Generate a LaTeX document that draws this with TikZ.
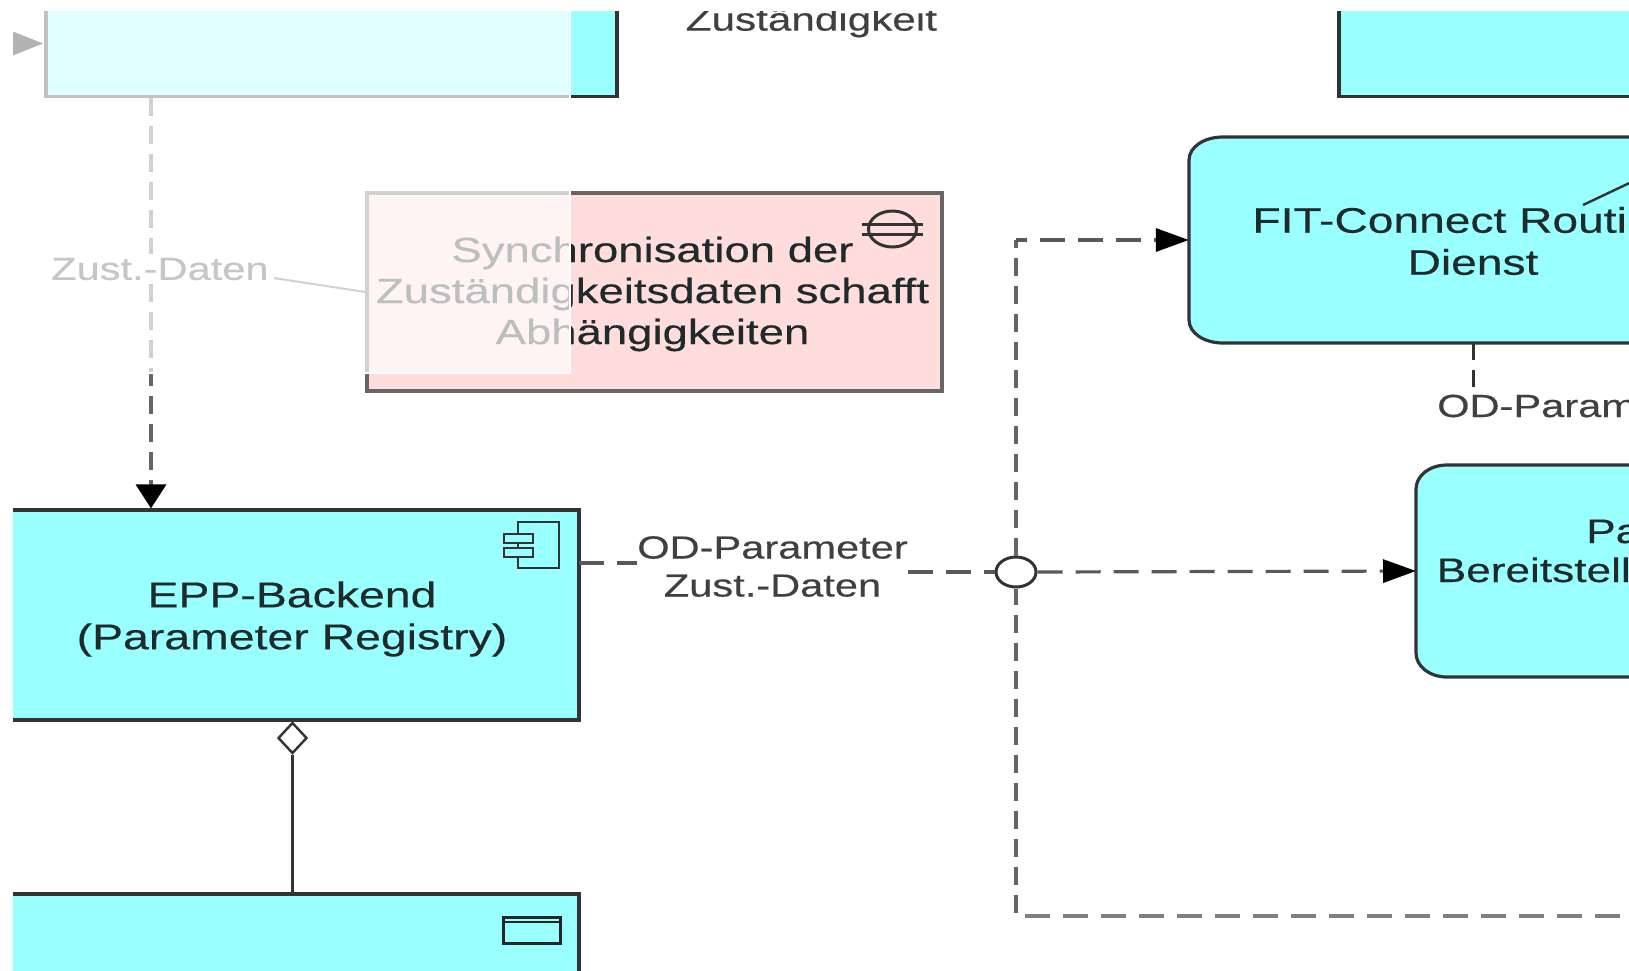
\documentclass[tikz,border=0pt]{standalone}
\usepackage{fontspec}
\setmainfont[FakeStretch=1.3,FakeBold=0.35]{Liberation Sans}
\usetikzlibrary{arrows.meta,shapes.geometric}
\definecolor{cy}{HTML}{99FFFF}
\definecolor{pk}{HTML}{FFDDDD}
\definecolor{ed}{HTML}{333333}
\definecolor{tx}{HTML}{1F2A2A}
\tikzset{
  box/.style={draw=ed,line width=3.2pt,fill=cy,rectangle,inner sep=0pt,align=center,text=tx,font=\fontsize{35.7}{42}\selectfont},
  softtext/.style={inner sep=0pt,align=center,text=tx,font=\fontsize{35.5}{42}\selectfont},
  riskbox/.style={draw=black!60,line width=3.4pt,fill=pk,rectangle,inner sep=0pt,align=center,text=tx,font=\fontsize{35}{41}\selectfont},
  conlabel/.style={fill=white,inner sep=0pt,align=center,text=black!75,font=\fontsize{32}{38}\selectfont},
  vdash/.style={draw=black!60,line width=3.6pt,dash pattern=on 18pt off 10pt},
  hdash/.style={draw=black!65,line width=3.2pt,dash pattern=on 25pt off 13pt},
  tipv/.style={-{Triangle[length=24pt,width=30pt,color=black,fill=black]}},
  tiph/.style={-{Triangle[length=33pt,width=23pt,color=black,fill=black]}},
}
\begin{document}
\begin{tikzpicture}[x=1pt,y=-1pt]
\useasboundingbox (0,0) rectangle (1629,970);
\begin{scope}
\clip (13,11) rectangle (1629,970);

% rectangular elements
\node[box,minimum width=571pt,minimum height=157pt] (tl) at (331.5,18.3) {};
\node[box,minimum width=661pt,minimum height=157pt] (tr) at (1669.5,18.3) {};
\node[riskbox,minimum width=575pt,minimum height=198pt,text depth=0pt] (risk) at (654.5,292) {};
\node[inner sep=0pt,align=center,text=tx,font=\fontsize{35}{41}\selectfont] (risktext) at (652.5,294)
  {Synchronisation der\\Zuständigkeitsdaten schafft\\Abhängigkeiten};
\node[box,minimum width=578pt,minimum height=210pt] (epp) at (290,615) {};
\node[inner sep=0pt,align=center,text=tx,font=\fontsize{35.7}{42}\selectfont] (epptext) at (292,619)
  {EPP-Backend\\(Parameter Registry)};
\node[box,minimum width=578pt,minimum height=212pt] (bot) at (290,1000) {};

% rounded services (elliptical corners on the visible side)
\path[draw=ed,line width=3.2pt,fill=cy]
  (1760,137) -- (1223,137) .. controls (1204,137) and (1189,147) .. (1189,160)
  -- (1189,320) .. controls (1189,333) and (1204,343) .. (1223,343) -- (1760,343) -- cycle;
\path[draw=ed,line width=3.2pt,fill=cy]
  (1760,465) -- (1447,465) .. controls (1429,465) and (1416,476) .. (1416,489)
  -- (1416,653) .. controls (1416,666) and (1429,677) .. (1447,677) -- (1760,677) -- cycle;
\node[inner sep=0pt,minimum width=568pt,minimum height=206pt] (fit) at (1473,240) {};
\node[softtext] (fittext) at (1473,241) {FIT-Connect Routing-\\Dienst};
\node[inner sep=0pt,minimum width=1pt,minimum height=212pt] (par) at (1416,571) {};
\node[softtext,anchor=base west,font=\fontsize{34}{42}\selectfont] (parA) at (1586,543) {Pa};
\node[softtext,anchor=base west,font=\fontsize{34}{42}\selectfont] (parB) at (1436.5,582) {Bereitstell};
\draw[ed,line width=2.4pt] (1583,205) -- (1640,178);

% icons
\draw[ed,line width=3pt] (892.5,229) ellipse [x radius=24pt,y radius=18pt];
\draw[ed,line width=3pt] (862,224) -- (923,224) (862,234) -- (923,234);
\draw[ed,line width=2.8pt] (518,522) rectangle (559,568);
\draw[ed,line width=2.8pt,fill=cy] (504,534) rectangle (533,543);
\draw[ed,line width=2.8pt,fill=cy] (504,548) rectangle (533,557);
\draw[black!85,line width=3pt] (503,917) rectangle (560,943);
\draw[black!85,line width=2.6pt] (503,922) -- (560,922);

% helper coordinates
\coordinate (zx) at (151,300);
\coordinate (ca) at (1016,240);
\coordinate (cb) at (1016,916);
\coordinate (ce) at (1640,916);
\coordinate (ea) at (579,563);
\coordinate (fx) at (13,43.5);

% labels and junction
\node[draw=ed,line width=3pt,fill=white,ellipse,inner sep=0pt,minimum width=40pt,minimum height=30pt] (jun) at (1016,572) {};
\node[conlabel,minimum width=271pt,minimum height=77pt] (od) at (772.5,566.5) {OD-Parameter\\Zust.-Daten};
\node[conlabel,anchor=west,minimum height=30pt] (zust) at (51,269) {Zust.-Daten};
\node[conlabel,anchor=base west,minimum height=30pt] (odr) at (1437,417) {OD-Parameter};
\node[conlabel,anchor=base west,font=\fontsize{32.5}{38}\selectfont] (zu) at (685.5,30.6) {Zuständigkeit};
\node[draw=ed,line width=2.4pt,fill=white,diamond,shape aspect=0.94,inner sep=0pt,minimum width=29pt,minimum height=31pt] (agg) at (292.5,738) {};

% connectors
\draw[ed,line width=2.8pt] (agg.south) -- (bot.north -| agg.south);
\draw[black!60,line width=2pt] ([xshift=5pt,yshift=-9pt]zust.east) -- (risk.west);
\fill[black] (fx) ++(0,-12) -- ++(30,12) -- ++(-30,12) -- cycle;
\draw[vdash] (tl.south -| zx) -- (zust.north -| zx);
\draw[vdash,tipv] (zust.south -| zx) -- (epp.north -| zx);
\draw[hdash] (ea) -- (od.west |- ea);
\draw[hdash] (od.east |- jun) -- (jun.west);
\draw[hdash,tiph] (jun.east) -- (par.center);
\draw[vdash,dash phase=10pt] (ca) -- (jun.north);
\draw[hdash,dash phase=14pt,tiph] (ca) -- (fit.west);
\draw[vdash,dash phase=2pt] (jun.south) -- (cb);
\draw[hdash,dash phase=29pt,draw=black!50,line width=4.5pt] (cb) -- (ce);
\draw[draw=ed,line width=3pt,dash pattern=on 17pt off 10pt] (fit.south) -- (odr.north -| fit.south);

% translucent veil over the upper-left part
\fill[white,opacity=.7] (0,0) rectangle (570,373);
\draw[white,line width=1.5pt] (570,0) -- (570,373) -- (0,373);
\end{scope}
\end{tikzpicture}
\end{document}
